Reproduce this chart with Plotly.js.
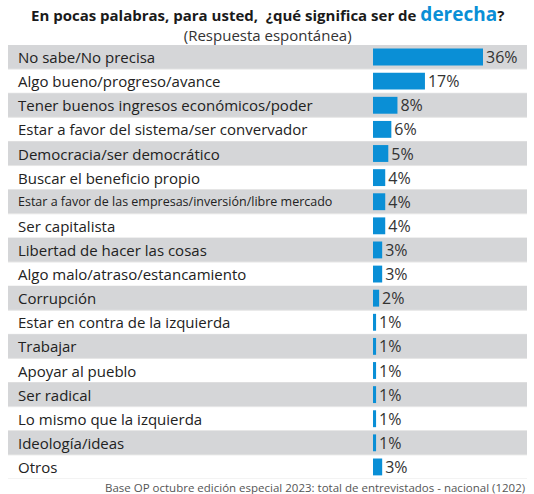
<!DOCTYPE html>
<html><head><meta charset="utf-8">
<script src="https://cdn.plot.ly/plotly-3.0.1.min.js"></script>
<style>html,body{margin:0;padding:0;background:#fff}#chart{width:534px;height:494px}</style>
</head><body><div id="chart"></div>
<script>
const categories = [
  "No sabe/No precisa",
  "Algo bueno/progreso/avance",
  "Tener buenos ingresos económicos/poder",
  "Estar a favor del sistema/ser convervador",
  "Democracia/ser democrático",
  "Buscar el beneficio propio",
  "Estar a favor de las empresas/inversión/libre mercado",
  "Ser capitalista",
  "Libertad de hacer las cosas",
  "Algo malo/atraso/estancamiento",
  "Corrupción",
  "Estar en contra de la izquierda",
  "Trabajar",
  "Apoyar al pueblo",
  "Ser radical",
  "Lo mismo que la izquierda",
  "Ideología/ideas",
  "Otros"
];
const values = [36, 17, 8, 6, 5, 4, 4, 4, 3, 3, 2, 1, 1, 1, 1, 1, 1, 3];
const titleText = "En pocas palabras, para usted,  ¿qué significa ser de ";
const titleHighlight = "derecha";
const subtitleText = "(Respuesta espontánea)";
const footerText = "Base OP octubre edición especial 2023: total de entrevistados - nacional (1202)";

const idx = categories.map((c, i) => i);
const shapes = [];
const annotations = [];
idx.forEach(i => {
  if (i % 2 === 0) {
    shapes.push({type:'rect', xref:'paper', yref:'y', x0:0, x1:1, y0:i-0.5, y1:i+0.5,
      fillcolor:'#d5d6d8', line:{width:0}, layer:'below'});
  }
  shapes.push({type:'line', xref:'paper', yref:'y', x0:0, x1:1, y0:i+0.5, y1:i+0.5,
    line:{color:'#e6e6e6', width:1}, layer:'below'});
  const small = categories[i].length > 45;
  annotations.push({xref:'paper', yref:'y', x:0, y:i, xanchor:'left', xshift:8, yanchor:'middle',
    text:categories[i], showarrow:false,
    font:{family:'Open Sans', size: small ? 12.5 : 15, color:'#222'}});
});
annotations.push({xref:'paper', yref:'paper', x:0.5, y:1, yshift:46, xanchor:'center', yanchor:'top',
  text:'<b><span style="color:#1a1a1a">' + titleText + '</span><span style="color:#0a8fd6;font-size:19px">' + titleHighlight + '</span>?</b><br>' +
       '<span style="color:#333">' + subtitleText + '</span>',
  showarrow:false, font:{family:'Open Sans', size:15, color:'#1a1a1a'}});
annotations.push({xref:'paper', yref:'paper', x:1, y:0, yshift:-8, xanchor:'right', yanchor:'middle',
  text:footerText, showarrow:false, font:{family:'Open Sans', size:11.5, color:'#555'}});

const trace = {
  type:'bar', orientation:'h', x:values, y:idx,
  marker:{color:'#0a8fd6'}, width:0.7,
  text: values.map(v => v + '%'), textposition:'outside', cliponaxis:false,
  constraintext:'none',
  textfont:{family:'Open Sans', size:16, color:'#333'},
  hoverinfo:'none'
};
const layout = {
  width:534, height:494,
  margin:{l:8, r:7, t:45, b:15},
  paper_bgcolor:'#fff', plot_bgcolor:'rgba(0,0,0,0)',
  showlegend:false,
  xaxis:{domain:[0.7033, 1], range:[0, 50.4], visible:false, fixedrange:true},
  yaxis:{range:[categories.length-0.5, -0.5], visible:false, fixedrange:true},
  shapes:shapes, annotations:annotations, bargap:0.3
};
Plotly.newPlot('chart', [trace], layout, {displayModeBar:false, staticPlot:true});
</script></body></html>
